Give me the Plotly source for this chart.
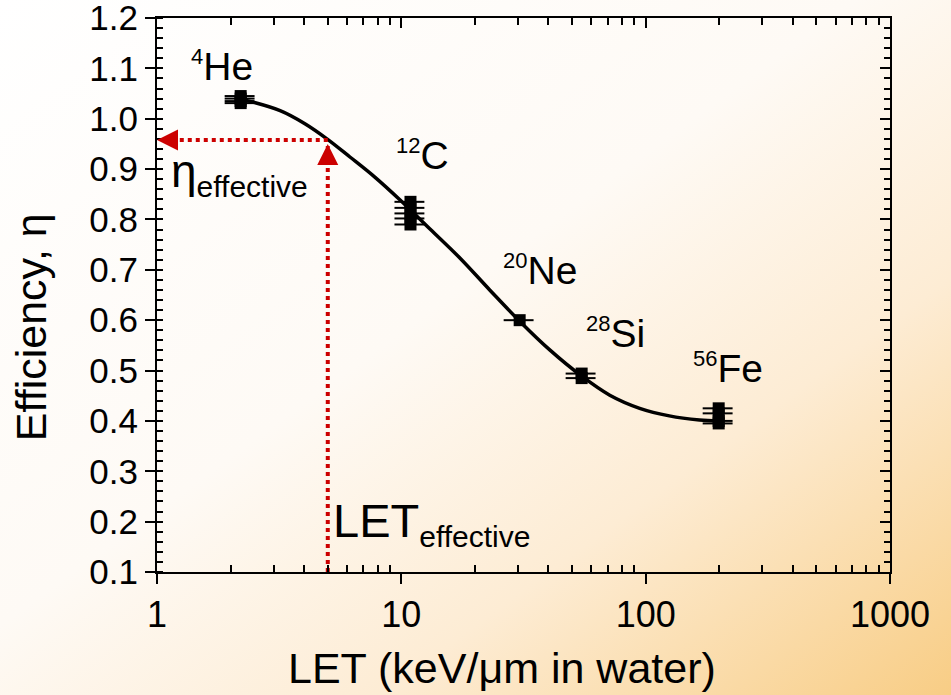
import math, base64
import plotly.graph_objects as go

# ---- data ----
ions = ["4He", "12C", "20Ne", "28Si", "56Fe"]
he_let = [2.2, 2.2, 2.2, 2.2]
he_eff = [1.045, 1.040, 1.035, 1.031]
c_let = [10.9, 10.9, 10.9, 10.9, 10.9]
c_eff = [0.835, 0.823, 0.812, 0.802, 0.790]
ne_let = [30.5]
ne_eff = [0.600]
si_let = [54.7, 54.7]
si_eff = [0.494, 0.485]
fe_let = [199, 199, 199, 199]
fe_eff = [0.425, 0.415, 0.400, 0.395]

fit_let = [2.17, 3.19, 4.03, 4.96, 6.16, 7.79, 9.86, 13.1, 17.4, 23.0, 30.5, 40.5, 54.7, 71.3, 94.5, 125, 166, 199]
fit_eff = [1.040, 1.016, 0.990, 0.960, 0.924, 0.884, 0.839, 0.781, 0.723, 0.660, 0.598, 0.541, 0.489, 0.451, 0.425, 0.410, 0.402, 0.400]

let_effective = 5.0
eta_effective = 0.958
x_min_let = 1.0
y_min_eff = 0.1

x_ticks = [1, 10, 100, 1000]
x_tick_text = ["1", "10", "100", "1000"]
y_ticks = [0.1, 0.2, 0.3, 0.4, 0.5, 0.6, 0.7, 0.8, 0.9, 1.0, 1.1, 1.2]
y_tick_text = ["0.1", "0.2", "0.3", "0.4", "0.5", "0.6", "0.7", "0.8", "0.9", "1.0", "1.1", "1.2"]

FONT = "Liberation Sans, Arial, sans-serif"
RED = "#CC0000"

fig = go.Figure()

all_let = he_let + c_let + ne_let + si_let + fe_let
all_eff = he_eff + c_eff + ne_eff + si_eff + fe_eff

# fit curve
fig.add_trace(go.Scatter(x=fit_let, y=fit_eff, mode="lines", line=dict(color="black", width=3.5, shape="spline"),
                         hoverinfo="skip", showlegend=False))
# data points
fig.add_trace(go.Scatter(x=all_let, y=all_eff, mode="markers",
                         marker=dict(symbol="square", size=12, color="black"),
                         error_x=dict(type="percent", value=14, width=0, thickness=2, color="black"),
                         showlegend=False))

# dotted guides
fig.add_trace(go.Scatter(x=[let_effective, let_effective], y=[y_min_eff, eta_effective - 0.012], mode="lines",
                         line=dict(color=RED, width=4, dash="dot"), hoverinfo="skip", showlegend=False))
fig.add_trace(go.Scatter(x=[let_effective, x_min_let * 1.06], y=[eta_effective, eta_effective], mode="lines",
                         line=dict(color=RED, width=4, dash="dot"), hoverinfo="skip", showlegend=False))

# invisible trace for mirrored axes
fig.add_trace(go.Scatter(x=[10], y=[0.5], xaxis="x2", yaxis="y2", mode="markers",
                         marker=dict(opacity=0), hoverinfo="skip", showlegend=False))

annotations = []
# arrowheads
annotations.append(dict(x=math.log10(x_min_let), y=eta_effective, xref="x", yref="y", ax=22, ay=0,
                        showarrow=True, arrowhead=2, arrowsize=1.2, arrowwidth=3.5, arrowcolor=RED, text="",
                        standoff=0))
annotations.append(dict(x=math.log10(let_effective), y=eta_effective - 0.008, xref="x", yref="y", ax=0, ay=22,
                        showarrow=True, arrowhead=2, arrowsize=1.2, arrowwidth=3.5, arrowcolor=RED, text="",
                        standoff=0))

def lab(x, y, text, size=39):
    annotations.append(dict(x=math.log10(x), y=y, xref="x", yref="y", text=text, showarrow=False,
                            xanchor="left", yanchor="middle", font=dict(family=FONT, size=size, color="black")))

def sup(s):
    return "<sup><span style='font-size:22px'>%s</span></sup>" % s

lab(1.35, 1.104, sup("4") + "He")
lab(9.33, 0.927, sup("12") + "C")
lab(25.5, 0.699, sup("20") + "Ne")
lab(56.0, 0.574, sup("28") + "Si")
lab(154.0, 0.505, sup("56") + "Fe")
lab(1.12, 0.89, "η<sub><span style='font-size:30px'>effective</span></sub>", 46)
lab(5.15, 0.197, "LET<sub><span style='font-size:30px'>effective</span></sub>", 47)

# axis titles as annotations
annotations.append(dict(x=-0.172, y=0.586, xref="paper", yref="y", text="Efficiency, η", textangle=-90,
                        showarrow=False, xanchor="center", yanchor="middle",
                        font=dict(family=FONT, size=43, color="black")))
annotations.append(dict(x=math.log10(25.8), y=-0.173, xref="x", yref="paper", text="LET (keV/μm in water)",
                        showarrow=False, xanchor="center", yanchor="middle",
                        font=dict(family=FONT, size=43, color="black")))

fig.update_layout(annotations=annotations)

# gradient background
svg = ("<svg xmlns='http://www.w3.org/2000/svg' width='951' height='695' preserveAspectRatio='none'>"
       "<defs><linearGradient id='g' x1='0' y1='0' x2='1' y2='1'>"
       "<stop offset='0' stop-color='#ffffff'/>"
       "<stop offset='0.45' stop-color='#fefaf5'/>"
       "<stop offset='0.7' stop-color='#fdecd4'/>"
       "<stop offset='1' stop-color='#f8cd85'/>"
       "</linearGradient></defs><rect width='951' height='695' fill='url(#g)'/></svg>")
src = "data:image/svg+xml;base64," + base64.b64encode(svg.encode()).decode()

L, R, T, B = 157, 61, 18, 123
W, H = 951, 695
pw, ph = W - L - R, H - T - B
fig.add_layout_image(dict(source=src, xref="paper", yref="paper", x=-L / pw, y=1 + T / ph,
                          sizex=W / pw, sizey=H / ph, sizing="stretch", layer="below", xanchor="left", yanchor="top"))

minor_x = [m * 10 ** d for d in range(0, 3) for m in range(2, 10)]

axis_common = dict(showline=True, linecolor="black", linewidth=2, showgrid=False, zeroline=False,
                   tickcolor="black", tickwidth=2, automargin=False)

fig.update_layout(
    width=W, height=H, margin=dict(l=L, r=R, t=T, b=B, autoexpand=False),
    paper_bgcolor="white", plot_bgcolor="rgba(0,0,0,0)",
    font=dict(family=FONT, color="black"),
    xaxis=dict(type="log", range=[0, 3], tickvals=x_ticks, ticktext=x_tick_text, ticks="outside", ticklen=10,
               ticklabeloverflow="allow",
               tickfont=dict(size=36), minor=dict(ticks="inside", tickvals=minor_x, ticklen=7, tickwidth=2, tickcolor="black"),
               **axis_common),
    yaxis=dict(range=[0.1, 1.2], tickvals=y_ticks, ticktext=y_tick_text, ticks="outside", ticklen=10,
               ticklabeloverflow="allow",
               tickfont=dict(size=35), minor=dict(ticks="inside", dtick=0.02, tick0=0.1, ticklen=6, tickwidth=2, tickcolor="black"),
               **axis_common),
    xaxis2=dict(type="log", range=[0, 3], overlaying="x", side="top", anchor="y", tickvals=x_ticks, ticks="inside",
                ticklen=10, showticklabels=False,
                minor=dict(ticks="inside", tickvals=minor_x, ticklen=7, tickwidth=2, tickcolor="black"), **axis_common),
    yaxis2=dict(range=[0.1, 1.2], tickvals=y_ticks, overlaying="y", side="right", anchor="x", ticks="inside",
                ticklen=10, showticklabels=False,
                minor=dict(ticks="inside", dtick=0.02, tick0=0.1, ticklen=6, tickwidth=2, tickcolor="black"), **axis_common),
)

fig.write_html("out.html", config={"displayModeBar": False},
               post_script="document.body.style.margin='0px';")
